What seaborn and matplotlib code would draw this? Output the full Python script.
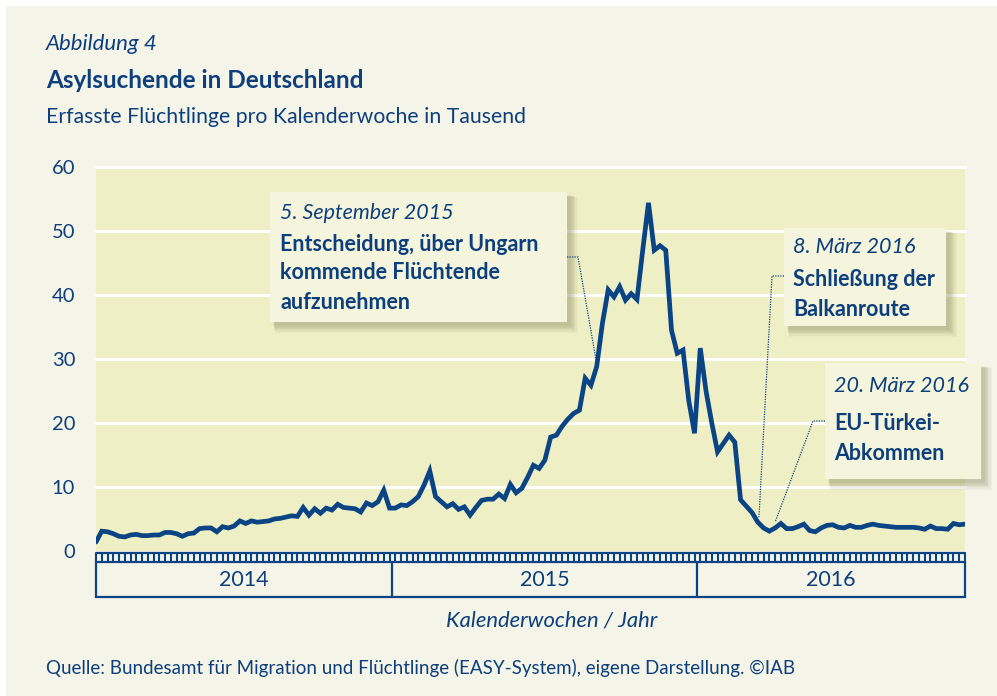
import numpy as np
import pandas as pd
import matplotlib
matplotlib.use("Agg")
import matplotlib.pyplot as plt
import seaborn as sns
from matplotlib.patches import Rectangle
from matplotlib.lines import Line2D
from matplotlib.transforms import Affine2D

# ---------------- data (thousand asylum seekers per calendar week) ----------------
weeks_2014 = [1.4, 3.1, 3.0, 2.7, 2.3, 2.2, 2.5, 2.6, 2.4, 2.4,
              2.5, 2.5, 2.9, 2.9, 2.7, 2.3, 2.7, 2.8, 3.5, 3.6,
              3.6, 3.0, 3.8, 3.6, 3.9, 4.7, 4.3, 4.7, 4.5, 4.6,
              4.7, 5.0, 5.1, 5.3, 5.5, 5.4, 6.8, 5.6, 6.6, 5.9,
              6.7, 6.4, 7.3, 6.8, 6.7, 6.6, 6.1, 7.5, 7.1, 7.7,
              9.5, 6.7]
weeks_2015 = [6.7, 7.2, 7.1, 7.7, 8.5, 10.3, 12.5, 8.5, 7.7, 6.9,
              7.4, 6.5, 6.9, 5.6, 6.8, 7.9, 8.1, 8.1, 8.9, 8.2,
              10.4, 9.1, 9.8, 11.5, 13.4, 12.9, 14.2, 17.8, 18.1, 19.5,
              20.6, 21.5, 22.0, 27.0, 25.9, 28.8, 35.6, 40.8, 39.7, 41.3,
              39.2, 40.2, 39.3, 47.0, 54.4, 47.0, 47.7, 47.0, 34.5, 30.9,
              31.4, 23.5, 18.4]
weeks_2016 = [31.7, 25.0, 20.0, 15.5, 16.8, 18.1, 17.0, 8.0, 7.0, 6.0,
              4.5, 3.6, 3.1, 3.6, 4.3, 3.5, 3.5, 3.8, 4.2, 3.2,
              3.0, 3.6, 4.0, 4.1, 3.7, 3.6, 4.0, 3.7, 3.7, 4.0,
              4.2, 4.0, 3.9, 3.8, 3.7, 3.7, 3.7, 3.7, 3.6, 3.4,
              3.9, 3.5, 3.5, 3.4, 4.3, 4.1, 4.2]
years = ["2014", "2015", "2016"]
y_ticks = [0, 10, 20, 30, 40, 50, 60]

annotations = [
    {"date": "5. September 2015", "lines": ["Entscheidung, über Ungarn", "kommende Flüchtende", "aufzunehmen"]},
    {"date": "8. März 2016", "lines": ["Schließung der", "Balkanroute"]},
    {"date": "20. März 2016", "lines": ["EU-Türkei-", "Abkommen"]},
]
# connector end points (week index, value)
ann_targets = [(86.9, 29.8), (115.2, 5.3), (118.0, 4.5)]

# ---------------- styling ----------------
W, H = 997, 696
BG = "#f5f4e8"
PLOT_BG = "#efefc6"
BOX_BG = "#f5f5dd"
TXT = "#0c3f7c"
LINE = "#0a4484"

sns.set_theme(style="white")
plt.rcParams["font.family"] = ["Lato", "DejaVu Sans"]

fig = plt.figure(figsize=(W / 100, H / 100), dpi=100)
fig.patch.set_facecolor("white")
px = Affine2D().scale(1 / W, -1 / H).translate(0, 1) + fig.transFigure

fig.add_artist(Rectangle((6, 6), W - 6, H - 6, transform=px, facecolor=BG,
                         edgecolor="none", zorder=-10))

# ---------------- main axes ----------------
ax = fig.add_axes([96 / W, 1 - 551 / H, 869 / W, 384 / H])
values = weeks_2014 + weeks_2015 + weeks_2016
year_of = [years[0]] * len(weeks_2014) + [years[1]] * len(weeks_2015) + [years[2]] * len(weeks_2016)
df = pd.DataFrame({"week": np.arange(len(values)), "value": values, "year": year_of})
n = len(values)

ax.set_facecolor(PLOT_BG)
for s in ax.spines.values():
    s.set_visible(False)
for t in y_ticks[1:]:
    ax.axhline(t, color="white", lw=2.2, zorder=1, clip_on=False)

sns.lineplot(data=df, x="week", y="value", ax=ax, color=LINE, lw=3.4,
             zorder=3, solid_joinstyle="miter")

ax.set_xlim(0, n - 1)
ax.set_ylim(0, 60)
ax.set_yticks(y_ticks)
ax.set_yticklabels([str(t) for t in y_ticks])
ax.set_xticks([])
ax.set_xlabel("")
ax.set_ylabel("")
ax.tick_params(axis="y", length=0, pad=15, labelsize=14.5, labelcolor=TXT)

# week tick strip
xt = ax.get_xaxis_transform()
ax.add_line(Line2D([0, n - 1], [-2 / 384, -2 / 384], transform=xt, color=LINE,
                   lw=1.6, clip_on=False))
ax.vlines(np.arange(n), -2 / 384, -9.5 / 384, transform=xt, color=LINE,
          lw=1.5, clip_on=False)

# year box
yb0, yb1 = -(597 - 551) / 384, -(562 - 551) / 384
ax.add_patch(Rectangle((0, yb0), n - 1, yb1 - yb0, transform=xt, facecolor="none",
                       edgecolor=LINE, lw=1.6, clip_on=False))
bounds = [len(weeks_2014) - 0.5, len(weeks_2014) + len(weeks_2015) - 0.5]
for b in bounds:
    ax.add_line(Line2D([b, b], [yb0, yb1], transform=xt, color=LINE, lw=1.6,
                       clip_on=False))
starts = [0, bounds[0], bounds[1]]
ends = [bounds[0], bounds[1], n - 1]
for yr, s0, e0 in zip(years, starts, ends):
    ax.text((s0 + e0) / 2, (yb0 + yb1) / 2, yr, transform=xt, ha="center",
            va="center", fontsize=15.5, color=TXT)

# ---------------- titles / texts ----------------
fig.text(46 / W, 1 - 44 / H, "Abbildung 4", fontsize=16, style="italic",
         color=TXT, va="center")
fig.text(46 / W, 1 - 80 / H, "Asylsuchende in Deutschland", fontsize=17.5,
         weight="bold", color=TXT, va="center")
fig.text(46 / W, 1 - 117 / H, "Erfasste Flüchtlinge pro Kalenderwoche in Tausend",
         fontsize=15.3, color=TXT, va="center")
fig.text(552 / W, 1 - 620 / H, "Kalenderwochen / Jahr", fontsize=15.8,
         style="italic", color=TXT, ha="center", va="center")
fig.text(46 / W, 1 - 668 / H,
         "Quelle: Bundesamt für Migration und Flüchtlinge (EASY-System), eigene Darstellung. ©IAB",
         fontsize=13.5, color=TXT, va="center")

# ---------------- annotation boxes ----------------
boxes = [(270, 192, 567, 322), (784, 228, 946, 326), (825, 363, 981, 479)]
text_pos = [(280, [213, 244, 273, 303]), (793, [247, 279, 309]), (834, [386, 423, 453])]
elbows = [((567, 257), (578, 257)), ((784, 276), (772, 276)), ((825, 421), (813, 421))]

fig.canvas.draw()
for (x0, y0, x1, y1), (tx, tys), ann, (e0, e1), tgt in zip(boxes, text_pos, annotations, elbows, ann_targets):
    # soft shadow
    for k, a in zip(range(6, 0, -1), [0.05, 0.06, 0.07, 0.08, 0.09, 0.10]):
        fig.add_artist(Rectangle((x0 + 3 + k * 0.3, y0 + 3 + k * 0.3), (x1 - x0) + k, (y1 - y0) + k,
                                 transform=px, facecolor="#7a7a50", alpha=a,
                                 edgecolor="none", zorder=4))
    fig.add_artist(Rectangle((x0, y0), x1 - x0, y1 - y0, transform=px,
                             facecolor=BOX_BG, edgecolor="none", zorder=5))
    fig.text(tx / W, 1 - tys[0] / H, ann["date"], fontsize=15.5, style="italic",
             color=TXT, va="center", zorder=6)
    for ln, yy in zip(ann["lines"], tys[1:]):
        fig.text(tx / W, 1 - yy / H, ln, fontsize=15.5, weight="bold", color=TXT,
                 va="center", zorder=6)
    dx, dy = ax.transData.transform(tgt)
    end = (dx, H - dy)
    fig.add_artist(Line2D([e0[0], e1[0], end[0]], [e0[1], e1[1], end[1]],
                          transform=px, color=LINE, lw=0.9, ls=(0, (1, 1)),
                          zorder=4.5))

fig.savefig("out.png", dpi=100, facecolor=fig.get_facecolor())
